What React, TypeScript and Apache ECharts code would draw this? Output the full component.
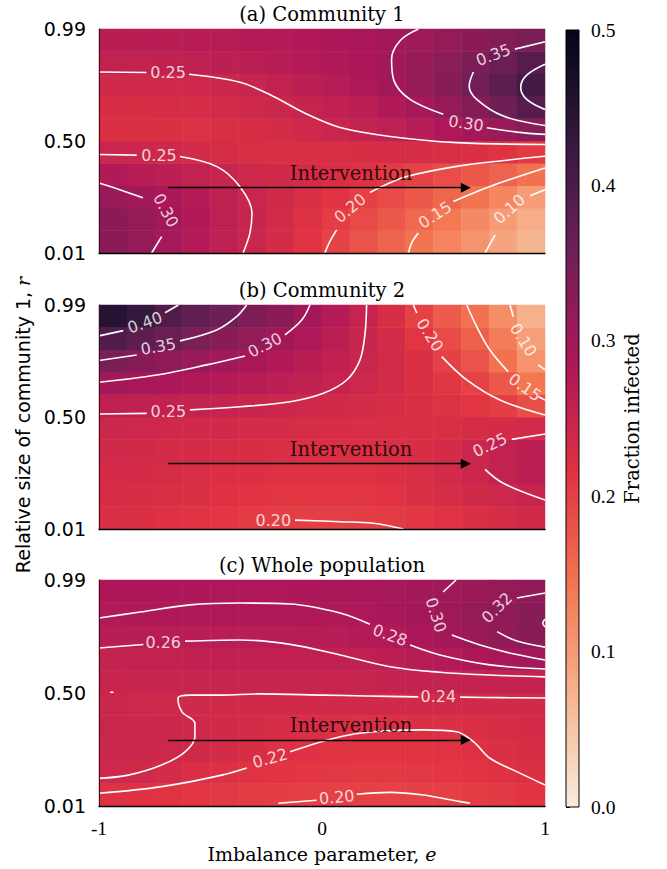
import React, { useEffect, useRef } from "react";
import * as echarts from "echarts";

// ---------- data ----------
// cell centres of the heat-map grid (e: imbalance parameter, r: relative size)
const E_CENTERS = [-0.9375, -0.8125, -0.6875, -0.5625, -0.4375, -0.3125, -0.1875, -0.0625, 0.0625, 0.1875, 0.3125, 0.4375, 0.5625, 0.6875, 0.8125, 0.9375];
const R_CENTERS = [0.059, 0.157, 0.255, 0.353, 0.451, 0.549, 0.647, 0.745, 0.843, 0.941];

// fraction infected, rows from r = 0.059 (bottom) to r = 0.941 (top)
const COMMUNITY_1 = [
  [0.325, 0.315, 0.295, 0.278, 0.262, 0.247, 0.232, 0.215, 0.197, 0.18, 0.163, 0.146, 0.128, 0.11, 0.09, 0.07],
  [0.325, 0.313, 0.298, 0.28, 0.262, 0.25, 0.235, 0.22, 0.204, 0.19, 0.175, 0.157, 0.14, 0.12, 0.1, 0.08],
  [0.31, 0.3, 0.288, 0.275, 0.262, 0.248, 0.237, 0.225, 0.213, 0.2, 0.188, 0.175, 0.16, 0.145, 0.125, 0.098],
  [0.28, 0.272, 0.265, 0.258, 0.25, 0.243, 0.237, 0.232, 0.226, 0.218, 0.207, 0.198, 0.187, 0.175, 0.163, 0.148],
  [0.248, 0.245, 0.24, 0.235, 0.23, 0.227, 0.225, 0.225, 0.226, 0.228, 0.23, 0.23, 0.227, 0.222, 0.215, 0.208],
  [0.222, 0.222, 0.222, 0.223, 0.225, 0.228, 0.233, 0.24, 0.248, 0.255, 0.264, 0.274, 0.285, 0.296, 0.31, 0.33],
  [0.228, 0.228, 0.229, 0.231, 0.235, 0.24, 0.246, 0.253, 0.26, 0.268, 0.279, 0.295, 0.313, 0.333, 0.36, 0.39],
  [0.238, 0.238, 0.238, 0.242, 0.246, 0.251, 0.258, 0.265, 0.273, 0.283, 0.297, 0.315, 0.333, 0.355, 0.38, 0.41],
  [0.258, 0.258, 0.26, 0.262, 0.265, 0.268, 0.272, 0.276, 0.281, 0.288, 0.3, 0.313, 0.327, 0.343, 0.365, 0.39],
  [0.27, 0.27, 0.27, 0.272, 0.274, 0.276, 0.278, 0.282, 0.286, 0.29, 0.296, 0.305, 0.315, 0.325, 0.335, 0.345],
];
const COMMUNITY_2 = [
  [0.225, 0.222, 0.219, 0.215, 0.211, 0.207, 0.204, 0.202, 0.202, 0.203, 0.206, 0.211, 0.217, 0.224, 0.23, 0.236],
  [0.23, 0.228, 0.225, 0.222, 0.218, 0.215, 0.212, 0.21, 0.21, 0.212, 0.216, 0.222, 0.23, 0.237, 0.243, 0.25],
  [0.234, 0.232, 0.23, 0.227, 0.224, 0.222, 0.22, 0.219, 0.219, 0.22, 0.222, 0.227, 0.235, 0.245, 0.258, 0.268],
  [0.238, 0.236, 0.234, 0.232, 0.23, 0.228, 0.226, 0.225, 0.224, 0.224, 0.225, 0.228, 0.234, 0.245, 0.257, 0.265],
  [0.244, 0.242, 0.24, 0.238, 0.236, 0.234, 0.232, 0.23, 0.228, 0.227, 0.226, 0.226, 0.227, 0.229, 0.232, 0.235],
  [0.262, 0.26, 0.258, 0.256, 0.253, 0.249, 0.245, 0.241, 0.237, 0.233, 0.229, 0.225, 0.22, 0.212, 0.203, 0.185],
  [0.298, 0.292, 0.287, 0.282, 0.277, 0.272, 0.266, 0.26, 0.252, 0.243, 0.233, 0.222, 0.21, 0.198, 0.175, 0.142],
  [0.345, 0.333, 0.322, 0.31, 0.3, 0.29, 0.28, 0.27, 0.26, 0.248, 0.235, 0.222, 0.2, 0.18, 0.147, 0.11],
  [0.395, 0.38, 0.365, 0.345, 0.33, 0.317, 0.298, 0.283, 0.267, 0.25, 0.233, 0.212, 0.19, 0.165, 0.135, 0.095],
  [0.45, 0.43, 0.395, 0.375, 0.36, 0.343, 0.325, 0.298, 0.275, 0.252, 0.228, 0.198, 0.172, 0.148, 0.115, 0.075],
];
const WHOLE_POPULATION = [
  [0.22, 0.218, 0.215, 0.212, 0.209, 0.206, 0.203, 0.201, 0.2, 0.199, 0.199, 0.2, 0.202, 0.205, 0.209, 0.213],
  [0.24, 0.238, 0.233, 0.227, 0.221, 0.217, 0.213, 0.211, 0.209, 0.208, 0.208, 0.209, 0.211, 0.214, 0.218, 0.222],
  [0.246, 0.245, 0.243, 0.239, 0.233, 0.228, 0.223, 0.219, 0.217, 0.215, 0.215, 0.215, 0.216, 0.219, 0.224, 0.228],
  [0.248, 0.246, 0.244, 0.24, 0.236, 0.233, 0.23, 0.227, 0.225, 0.223, 0.222, 0.222, 0.222, 0.225, 0.229, 0.232],
  [0.244, 0.243, 0.241, 0.238, 0.237, 0.236, 0.236, 0.236, 0.236, 0.236, 0.236, 0.236, 0.237, 0.237, 0.237, 0.237],
  [0.25, 0.251, 0.251, 0.251, 0.251, 0.251, 0.251, 0.251, 0.252, 0.253, 0.254, 0.255, 0.256, 0.257, 0.257, 0.258],
  [0.255, 0.257, 0.258, 0.259, 0.259, 0.259, 0.259, 0.259, 0.259, 0.261, 0.266, 0.272, 0.278, 0.284, 0.29, 0.297],
  [0.27, 0.271, 0.271, 0.271, 0.27, 0.27, 0.271, 0.272, 0.274, 0.277, 0.28, 0.287, 0.296, 0.306, 0.318, 0.328],
  [0.279, 0.281, 0.282, 0.283, 0.284, 0.284, 0.284, 0.283, 0.281, 0.285, 0.292, 0.298, 0.305, 0.314, 0.322, 0.33],
  [0.286, 0.287, 0.287, 0.286, 0.285, 0.285, 0.285, 0.287, 0.289, 0.292, 0.295, 0.298, 0.301, 0.306, 0.312, 0.318],
];

// contour lines: segments of [e, r] points, label = [e, r, rotation]
type Contour = { level: string; segs: number[][][]; label?: number[] };

const CONTOURS_A: Contour[] = [
  { level: "0.25", segs: [[[-1, 0.802], [-0.787, 0.8]], [[-0.596, 0.792], [-0.368, 0.757], [-0.22, 0.696], [-0.067, 0.617], [0.081, 0.559], [0.305, 0.52], [0.605, 0.493], [1, 0.485]]], label: [-0.69, 0.8, 0] },
  { level: "0.25", segs: [[[-1, 0.441], [-0.831, 0.438]], [[-0.637, 0.432], [-0.471, 0.388], [-0.368, 0.3], [-0.314, 0.186], [-0.323, 0.098], [-0.354, 0.01]]], label: [-0.731, 0.436, 0] },
  { level: "0.30", segs: [[[-1, 0.316], [-0.9, 0.285], [-0.803, 0.252]], [[-0.719, 0.082], [-0.764, 0.01]]], label: [-0.7, 0.196, -62] },
  { level: "0.20", segs: [[[0.013, 0.01], [0.035, 0.06], [0.066, 0.111]], [[0.215, 0.275], [0.3, 0.315], [0.38, 0.345], [0.604, 0.389], [0.828, 0.416], [1, 0.433]]], label: [0.126, 0.206, 40] },
  { level: "0.15", segs: [[[0.387, 0.01], [0.405, 0.06], [0.432, 0.097]], [[0.589, 0.235], [0.753, 0.301], [1, 0.382]]], label: [0.507, 0.177, 33] },
  { level: "0.10", segs: [[[0.731, 0.01], [0.776, 0.089]], [[0.933, 0.26], [1, 0.287]]], label: [0.84, 0.202, 42] },
  { level: "0.30", segs: [[[0.432, 0.99], [0.35, 0.939], [0.312, 0.858], [0.323, 0.763], [0.395, 0.682], [0.544, 0.617]], [[0.739, 0.558], [0.873, 0.539], [1, 0.529]]], label: [0.646, 0.577, -8] },
  { level: "0.35", segs: [[[1, 0.934], [0.865, 0.902]], [[0.679, 0.802], [0.66, 0.741], [0.694, 0.682], [0.813, 0.609], [1, 0.568]]], label: [0.768, 0.876, 20] },
  { level: "0.40", segs: [[[1, 0.836], [0.918, 0.788], [0.891, 0.734], [0.918, 0.682], [1, 0.638]]] },
];

const CONTOURS_B: Contour[] = [
  { level: "0.40", segs: [[[-1, 0.855], [-0.891, 0.878]], [[-0.704, 0.956], [-0.644, 0.99]]], label: [-0.794, 0.913, 20] },
  { level: "0.35", segs: [[[-1, 0.747], [-0.831, 0.771]], [[-0.637, 0.833], [-0.472, 0.881], [-0.383, 0.939], [-0.338, 0.99]]], label: [-0.734, 0.808, 10] },
  { level: "0.30", segs: [[[-1, 0.652], [-0.741, 0.684], [-0.517, 0.728], [-0.345, 0.767]], [[-0.166, 0.859], [-0.091, 0.924], [-0.054, 0.99]]], label: [-0.256, 0.815, 27] },
  { level: "0.25", segs: [[[-1, 0.513], [-0.786, 0.516]], [[-0.592, 0.531], [-0.368, 0.545], [-0.143, 0.567], [0.006, 0.604], [0.111, 0.662], [0.17, 0.749], [0.193, 0.866], [0.2, 0.99]]], label: [-0.689, 0.526, 0] },
  { level: "0.20", segs: [[[0.41, 0.99], [0.425, 0.955]], [[0.537, 0.764], [0.649, 0.662], [0.798, 0.574], [1, 0.509]]], label: [0.484, 0.859, -58] },
  { level: "0.15", segs: [[[0.649, 0.99], [0.694, 0.895], [0.753, 0.793], [0.835, 0.698]], [[0.97, 0.59], [1, 0.574]]], label: [0.91, 0.63, -35] },
  { level: "0.10", segs: [[[0.843, 0.99], [0.858, 0.939]], [[0.97, 0.728], [1, 0.706]]], label: [0.903, 0.837, -58] },
  { level: "0.25", segs: [[[1, 0.426], [0.851, 0.402]], [[0.731, 0.271], [0.813, 0.21], [1, 0.137]]], label: [0.753, 0.378, 25] },
  { level: "0.20", segs: [[[-0.121, 0.049], [0.081, 0.042], [0.23, 0.035], [0.365, 0.01]]], label: [-0.218, 0.046, 0] },
];

const CONTOURS_C: Contour[] = [
  { level: "0.28", segs: [[[-1, 0.825], [-0.816, 0.851], [-0.592, 0.882], [-0.368, 0.89], [-0.143, 0.886], [0.081, 0.847], [0.215, 0.798]], [[0.395, 0.708], [0.529, 0.665], [0.753, 0.622], [1, 0.604]]], label: [0.305, 0.751, -20] },
  { level: "0.26", segs: [[[-1, 0.695], [-0.801, 0.71]], [[-0.614, 0.725], [-0.368, 0.73], [-0.143, 0.711], [0.081, 0.665], [0.305, 0.614], [0.529, 0.59], [0.753, 0.578], [1, 0.57]]], label: [-0.712, 0.72, 0] },
  { level: "0.24", segs: [[[1, 0.478], [0.8, 0.48], [0.619, 0.482]], [[0.432, 0.483], [0.2, 0.487], [0.004, 0.491], [-0.291, 0.496], [-0.444, 0.491], [-0.592, 0.491], [-0.646, 0.478], [-0.628, 0.418], [-0.57, 0.369], [-0.57, 0.31], [-0.614, 0.245], [-0.719, 0.188], [-0.869, 0.144], [-1, 0.13]], [[-0.95, 0.503], [-0.935, 0.503]]], label: [0.522, 0.484, 0] },
  { level: "0.22", segs: [[[-1, 0.065], [-0.719, 0.094], [-0.45, 0.144], [-0.338, 0.175]], [[-0.143, 0.245], [0.081, 0.31], [0.23, 0.332], [0.454, 0.34], [0.604, 0.332], [0.679, 0.289], [0.753, 0.217], [0.873, 0.159], [1, 0.101]]], label: [-0.233, 0.217, 15] },
  { level: "0.20", segs: [[[-0.196, 0.022], [-0.024, 0.035]], [[0.156, 0.061], [0.305, 0.069], [0.454, 0.058], [0.604, 0.032], [0.664, 0.022]]], label: [0.066, 0.048, 5] },
  { level: "0.30", segs: [[[0.601, 0.99], [0.543, 0.938]], [[0.582, 0.751], [0.709, 0.708], [0.857, 0.67], [1, 0.643]]], label: [0.511, 0.838, -72] },
  { level: "0.32", segs: [[[1, 0.934], [0.874, 0.912]], [[0.785, 0.766], [0.874, 0.725], [1, 0.699]]], label: [0.785, 0.87, 45] },
  { level: "0.34", segs: [[[1, 0.821], [0.99, 0.803], [1, 0.786]]] },
];

const PANEL_TITLES = ["(a) Community 1", "(b) Community 2", "(c) Whole population"];
const X_TICKS = [-1, 0, 1];
const Y_TICKS = [0.01, 0.5, 0.99];
const CBAR_MIN = 0;
const CBAR_MAX = 0.5;
const CBAR_INTERVAL = 0.1;
const ARROW = [[-0.69, 0.296], [0.645, 0.296]];
const INTERVENTION_AT = [0.13, 0.36];

// seaborn "rocket" reversed
const ROCKET_R = ["#FAEBDD", "#F6B48F", "#F37651", "#E13342", "#AD1759", "#701F57", "#35193E", "#03051A"];

// ---------- layout ----------
const GRIDS = [
  { left: 99, top: 29, width: 446, height: 224 },
  { left: 99, top: 305, width: 446, height: 224 },
  { left: 99, top: 580, width: 446, height: 226 },
];
const TITLE_Y = [14, 290, 565];
const CBAR = { left: 566, top: 30, width: 13, height: 777 };

function buildOption() {
  const panels = [COMMUNITY_1, COMMUNITY_2, WHOLE_POPULATION];
  const contourSets = [CONTOURS_A, CONTOURS_B, CONTOURS_C];
  const xAxis: any[] = [];
  const yAxis: any[] = [];
  const series: any[] = [];
  const graphic: any[] = [];

  panels.forEach((vals, k) => {
    xAxis.push({ type: "category", gridIndex: k, position: "top", data: E_CENTERS.map(String), show: false });
    xAxis.push({
      type: "value", gridIndex: k, position: "bottom", min: -1, max: 1, z: 10,
      axisLine: { show: true, onZero: false, lineStyle: { color: "#000", width: 1.3 } },
      axisTick: { show: false }, splitLine: { show: false },
      axisLabel: {
        show: k === 2, customValues: X_TICKS, margin: 12, color: "#000",
        fontFamily: "Liberation Serif", fontSize: 19.5,
        formatter: (v: number) => String(v),
      },
    });
    yAxis.push({ type: "category", gridIndex: k, position: "right", data: R_CENTERS.map(String), show: false });
    yAxis.push({
      type: "value", gridIndex: k, position: "left", min: 0.01, max: 0.99, z: 10,
      axisLine: { show: true, onZero: false, lineStyle: { color: "#3a0d22", width: 1 } },
      axisTick: { show: false }, splitLine: { show: false },
      axisLabel: {
        customValues: Y_TICKS, margin: 13, color: "#000",
        fontFamily: "DejaVu Sans", fontSize: 19,
        formatter: (v: number) => v.toFixed(2),
      },
    });
    series.push({
      type: "heatmap", xAxisIndex: 2 * k, yAxisIndex: 2 * k, silent: true,
      emphasis: { disabled: true }, itemStyle: { borderWidth: 0 },
      data: vals.flatMap((row, j) => row.map((v, i) => [i, j, v])),
    });
    graphic.push({
      type: "text", x: GRIDS[k].left + GRIDS[k].width / 2, y: TITLE_Y[k], z: 100,
      style: { text: PANEL_TITLES[k], fontFamily: "DejaVu Serif", fontSize: 19.5, fill: "#000", align: "center", verticalAlign: "middle" },
    });
  });

  panels.forEach((_, k) => {
    const xi = 2 * k + 1;
    const yi = 2 * k + 1;
    const labels: any[] = [];
    contourSets[k].forEach((c) => {
      c.segs.forEach((seg) => {
        series.push({
          type: "line", xAxisIndex: xi, yAxisIndex: yi, data: seg, showSymbol: false, symbol: "none",
          smooth: 0.35, silent: true, z: 3, lineStyle: { color: "#ffffff", width: 1.6 },
        });
      });
      if (c.label) {
        labels.push({ name: c.level, value: [c.label[0], c.label[1]], label: { rotate: c.label[2] } });
      }
    });
    series.push({
      type: "scatter", xAxisIndex: xi, yAxisIndex: yi, symbolSize: 0, silent: true, z: 4,
      label: { show: true, position: "inside", formatter: "{b}", color: "#ffffff", fontFamily: "DejaVu Sans", fontSize: 16 },
      data: labels,
    });
    series.push({
      type: "lines", coordinateSystem: "cartesian2d", xAxisIndex: xi, yAxisIndex: yi, silent: true, z: 5,
      symbol: ["none", "triangle"], symbolSize: 10,
      lineStyle: { color: "#000", width: 1.4, opacity: 1, curveness: 0 },
      data: [{ coords: ARROW }],
    });
    series.push({
      type: "scatter", xAxisIndex: xi, yAxisIndex: yi, symbolSize: 0, silent: true, z: 5,
      label: { show: true, position: "inside", formatter: "{b}", color: "#000", fontFamily: "DejaVu Serif", fontSize: 19.5 },
      data: [{ name: "Intervention", value: INTERVENTION_AT }],
    });
  });

  // colour bar
  xAxis.push({ type: "value", gridIndex: 3, min: 0, max: 1, show: false });
  yAxis.push({
    type: "value", gridIndex: 3, position: "right", min: CBAR_MIN, max: CBAR_MAX, interval: CBAR_INTERVAL,
    axisLine: { show: false }, splitLine: { show: false },
    axisTick: { show: true, length: 4, lineStyle: { color: "#000", width: 1 } },
    axisLabel: { margin: 12, color: "#000", fontFamily: "Liberation Serif", fontSize: 19.5, formatter: (v: number) => v.toFixed(1) },
    name: "Fraction infected", nameLocation: "middle", nameRotate: 90, nameGap: 43,
    nameTextStyle: { fontFamily: "DejaVu Serif", fontSize: 19.5, color: "#000" },
  });
  graphic.push({
    type: "rect", z: 100,
    shape: { x: CBAR.left, y: CBAR.top, width: CBAR.width, height: CBAR.height },
    style: {
      fill: new echarts.graphic.LinearGradient(0, 1, 0, 0, ROCKET_R.map((c, i) => ({ offset: i / (ROCKET_R.length - 1), color: c }))),
      stroke: "#000", lineWidth: 1,
    },
  });

  graphic.push({
    type: "text", x: 23, y: 425, rotation: Math.PI / 2, z: 100,
    style: {
      text: "Relative size of community 1, {i|r}", fontFamily: "DejaVu Sans", fontSize: 19, fill: "#000",
      align: "center", verticalAlign: "middle",
      rich: { i: { fontFamily: "DejaVu Serif", fontStyle: "italic", fontSize: 19, fill: "#000" } },
    },
  });
  graphic.push({
    type: "text", x: 322, y: 854, z: 100,
    style: {
      text: "Imbalance parameter, {i|e}", fontFamily: "DejaVu Serif", fontSize: 19, fill: "#000",
      align: "center", verticalAlign: "middle",
      rich: { i: { fontFamily: "DejaVu Serif", fontStyle: "italic", fontSize: 19, fill: "#000" } },
    },
  });

  return {
    animation: false,
    backgroundColor: "#ffffff",
    grid: [...GRIDS.map((g) => ({ ...g, containLabel: false })), { ...CBAR, containLabel: false }],
    xAxis,
    yAxis,
    visualMap: {
      type: "continuous", show: false, min: CBAR_MIN, max: CBAR_MAX, dimension: 2,
      seriesIndex: [0, 1, 2], inRange: { color: ROCKET_R },
    },
    series,
    graphic,
  };
}

export default function App() {
  const ref = useRef<HTMLDivElement>(null);
  useEffect(() => {
    const chart = echarts.init(ref.current!, undefined, { renderer: "svg" });
    chart.setOption(buildOption() as any);
    return () => chart.dispose();
  }, []);
  return <div ref={ref} style={{ position: "fixed", left: 0, top: 0, width: 667, height: 869 }} />;
}
